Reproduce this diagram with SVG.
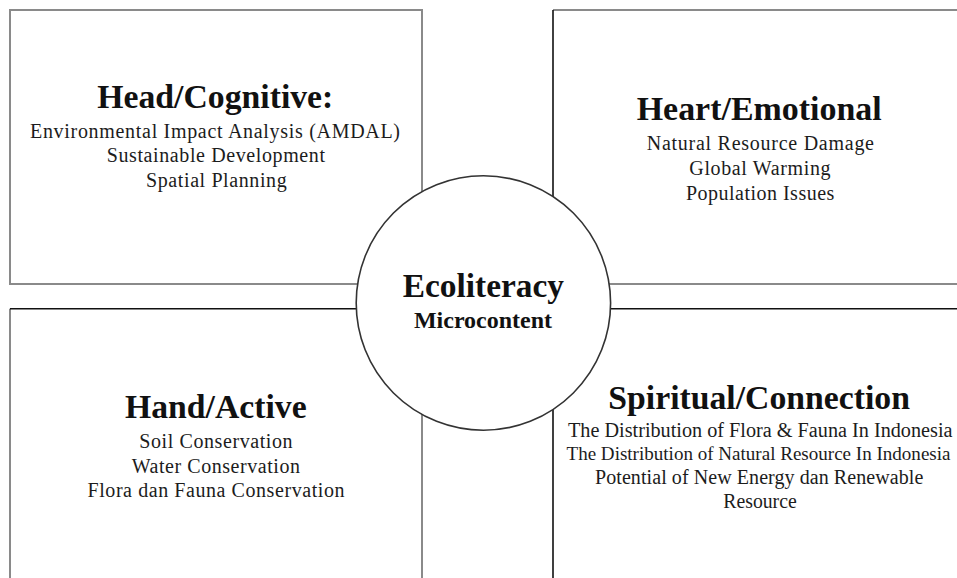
<svg xmlns="http://www.w3.org/2000/svg" width="957" height="578" viewBox="0 0 957 578">
  <style>
    text { font-family: "Liberation Serif", "Times New Roman", serif; fill: #111; }
    .title { font-size: 33px; font-weight: bold; }
    .body { font-size: 20px; fill: #1c1c1c; }
    .body.tight { font-size: 18.8px; }
    .edge-grey { fill: none; stroke: #8a8a8a; stroke-width: 2; }
    .edge-dark { fill: none; stroke: #111; stroke-width: 1.6; }
  </style>
  <rect width="957" height="578" fill="#fff"/>

  <!-- Head / Cognitive quadrant -->
  <g id="head-cognitive">
    <rect class="edge-grey" x="10" y="10" width="412" height="274"/>
    <text class="title" x="97.3" y="108.3" textLength="236" lengthAdjust="spacingAndGlyphs">Head/Cognitive:</text>
    <text class="body" x="30" y="137.7" textLength="370" lengthAdjust="spacing">Environmental Impact Analysis (AMDAL)</text>
    <text class="body" x="106.7" y="162.3" textLength="218.3" lengthAdjust="spacing">Sustainable Development</text>
    <text class="body" x="146" y="187" textLength="140.7" lengthAdjust="spacing">Spatial Planning</text>
  </g>

  <!-- Heart / Emotional quadrant -->
  <g id="heart-emotional">
    <path class="edge-grey" d="M958 10 H553 M553 284 H958"/>
    <path class="edge-dark" d="M553 10 V284"/>
    <text class="title" x="636.7" y="120" textLength="245" lengthAdjust="spacingAndGlyphs">Heart/Emotional</text>
    <text class="body" x="646.7" y="150" textLength="227.3" lengthAdjust="spacing">Natural Resource Damage</text>
    <text class="body" x="689.3" y="175" textLength="141.3" lengthAdjust="spacing">Global Warming</text>
    <text class="body" x="686" y="200" textLength="148.3" lengthAdjust="spacing">Population Issues</text>
  </g>

  <!-- Hand / Active quadrant -->
  <g id="hand-active">
    <path class="edge-grey" d="M10 579 V308.7 M422 308.7 V579"/>
    <path class="edge-dark" d="M10 308.7 H422"/>
    <text class="title" x="125" y="418.3" textLength="181.7" lengthAdjust="spacingAndGlyphs">Hand/Active</text>
    <text class="body" x="139.3" y="448.3" textLength="153.3" lengthAdjust="spacing">Soil Conservation</text>
    <text class="body" x="131.7" y="473.3" textLength="168.3" lengthAdjust="spacing">Water Conservation</text>
    <text class="body" x="87.5" y="496.7" textLength="257" lengthAdjust="spacing">Flora dan Fauna Conservation</text>
  </g>

  <!-- Spiritual / Connection quadrant -->
  <g id="spiritual-connection">
    <path class="edge-dark" d="M958 308.7 H553 V579"/>
    <text class="title" x="608.3" y="409.3" textLength="301.7" lengthAdjust="spacingAndGlyphs">Spiritual/Connection</text>
    <text class="body" x="568" y="436.7" textLength="384.5" lengthAdjust="spacingAndGlyphs">The Distribution of Flora &amp; Fauna In Indonesia</text>
    <text class="body tight" x="566.5" y="460" textLength="384" lengthAdjust="spacingAndGlyphs">The Distribution of Natural Resource In Indonesia</text>
    <text class="body" x="595" y="484" textLength="328.3" lengthAdjust="spacing">Potential of New Energy  dan Renewable</text>
    <text class="body" x="723.3" y="508" textLength="73.4" lengthAdjust="spacingAndGlyphs">Resource</text>
  </g>

  <!-- Central hub -->
  <g id="ecoliteracy">
    <circle cx="483.4" cy="303" r="127.2" fill="#fff" stroke="#333" stroke-width="1.6"/>
    <text class="title" x="402.7" y="296.7" textLength="161.3" lengthAdjust="spacingAndGlyphs">Ecoliteracy</text>
    <text x="414" y="327.7" font-size="24" font-weight="bold" textLength="138" lengthAdjust="spacingAndGlyphs">Microcontent</text>
  </g>
</svg>
